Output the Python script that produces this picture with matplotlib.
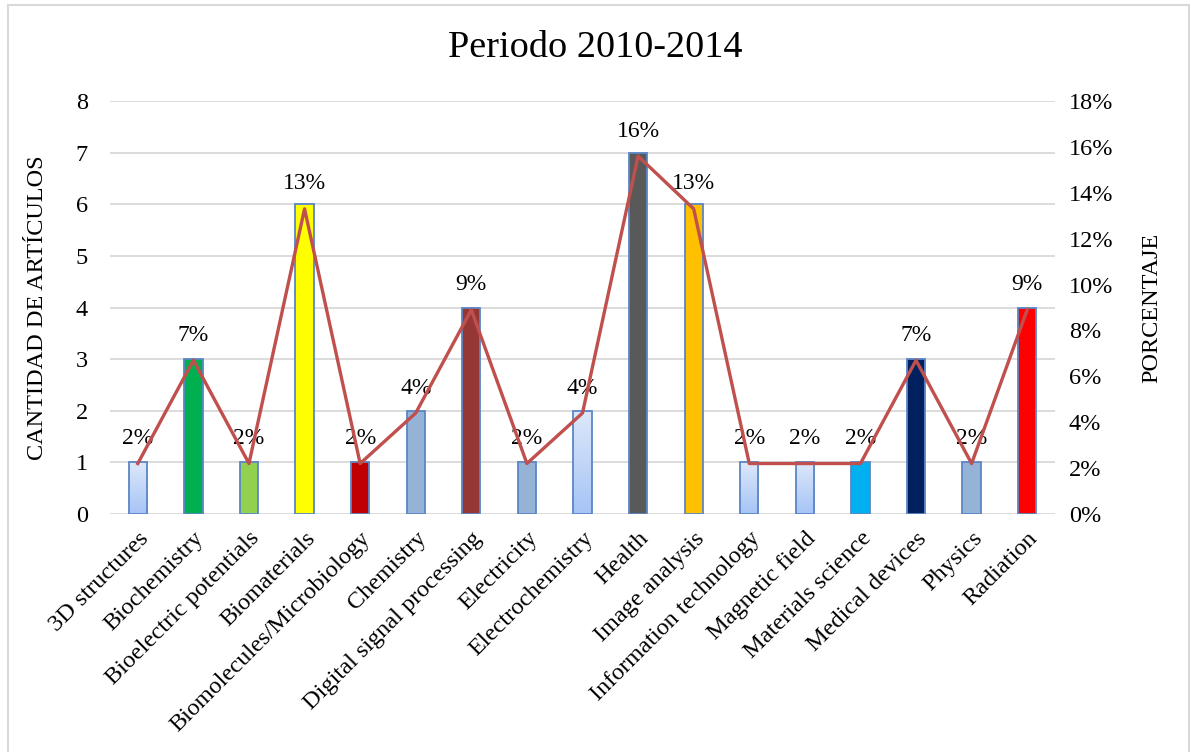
import numpy as np
import matplotlib.pyplot as plt
from matplotlib.patches import Rectangle
from matplotlib.ticker import PercentFormatter

plt.rcParams['font.family'] = ['Liberation Serif', 'DejaVu Serif']

categories = ["3D structures", "Biochemistry", "Bioelectric potentials", "Biomaterials",
              "Biomolecules/Microbiology", "Chemistry", "Digital signal processing",
              "Electricity", "Electrochemistry", "Health", "Image analysis",
              "Information technology", "Magnetic field", "Materials science",
              "Medical devices", "Physics", "Radiation"]
counts = [1, 3, 1, 6, 1, 2, 4, 1, 2, 7, 6, 1, 1, 1, 3, 1, 4]
percent = [2.2, 6.7, 2.2, 13.3, 2.2, 4.4, 8.9, 2.2, 4.4, 15.6, 13.3, 2.2, 2.2, 2.2, 6.7, 2.2, 8.9]
pct_labels = ["2%", "7%", "2%", "13%", "2%", "4%", "9%", "2%", "4%", "16%", "13%",
              "2%", "2%", "2%", "7%", "2%", "9%"]
# None = light blue gradient fill
bar_colors = [None, "#00B050", "#92D050", "#FFFF00", "#C00000", "#95B3D7", "#953735",
              "#95B3D7", None, "#595959", "#FFC000", None, None, "#00B0F0",
              "#002060", "#95B3D7", "#FF0000"]

fig = plt.figure(figsize=(11.91, 7.52), dpi=100)
W, H = 1191, 752
ax = fig.add_axes([110 / W, 1 - 514 / H, (1055 - 110) / W, (514 - 101) / H])

x = np.arange(len(categories))
bw = 0.33
grad = np.linspace(0, 1, 256).reshape(-1, 1)
cmap = plt.matplotlib.colors.LinearSegmentedColormap.from_list("g", ["#DDE8FA", "#A6C4F6"])

for i, (c, col) in enumerate(zip(counts, bar_colors)):
    if col is None:
        rect = ax.bar(i, c, width=bw, color="none", edgecolor="#5B86C5", linewidth=1.3, zorder=3)[0]
        im = ax.imshow(grad, cmap=cmap, aspect="auto", zorder=2,
                       extent=(i - bw / 2, i + bw / 2, 0, c), origin="upper")
        im.set_clip_path(rect)
    else:
        ax.bar(i, c, width=bw, color=col, edgecolor="#5B86C5", linewidth=1.3, zorder=3)

ax.set_xlim(-0.5, len(categories) - 0.5)
ax.set_ylim(0, 8)
ax.set_yticks(range(0, 9))
ax.grid(axis="y", color="#D9D9D9", linewidth=1.3, zorder=0)
ax.set_axisbelow(True)
for s in ax.spines.values():
    s.set_visible(False)
ax.tick_params(length=0, labelsize=17.5)
ax.tick_params(axis="y", pad=16)
ax.tick_params(axis="x", pad=10)
ax.set_xticks(x)
ax.set_xticklabels(categories, rotation=45, ha="right", rotation_mode="anchor", fontsize=17.5)
ax.set_ylabel("CANTIDAD DE ARTÍCULOS", fontsize=17.5, labelpad=20)

ax2 = ax.twinx()
ax2.plot(x, percent, color="#C0504D", linewidth=2.4, zorder=5)
ax2.set_ylim(0, 18)
ax2.set_yticks(range(0, 19, 2))
ax2.yaxis.set_major_formatter(PercentFormatter(decimals=0))
for s in ax2.spines.values():
    s.set_visible(False)
ax2.tick_params(length=0, labelsize=17.5, pad=10)
ax2.set_ylabel("PORCENTAJE", fontsize=17.5, labelpad=20)

for xi, p, lab in zip(x, percent, pct_labels):
    ax2.annotate(lab, (xi, p), xytext=(0, 14), textcoords="offset points",
                 ha="center", va="baseline", fontsize=17)

fig.text(0.5, 1 - 48 / H, "Periodo 2010-2014", ha="center", va="center", fontsize=27.5)

fig.patches.append(Rectangle((8 / W, -0.01), (1189 - 8) / W, 1 - 5 / H + 0.01,
                             transform=fig.transFigure, fill=False,
                             edgecolor="#D9D9D9", linewidth=1.5))

fig.savefig("out.png", dpi=100)
